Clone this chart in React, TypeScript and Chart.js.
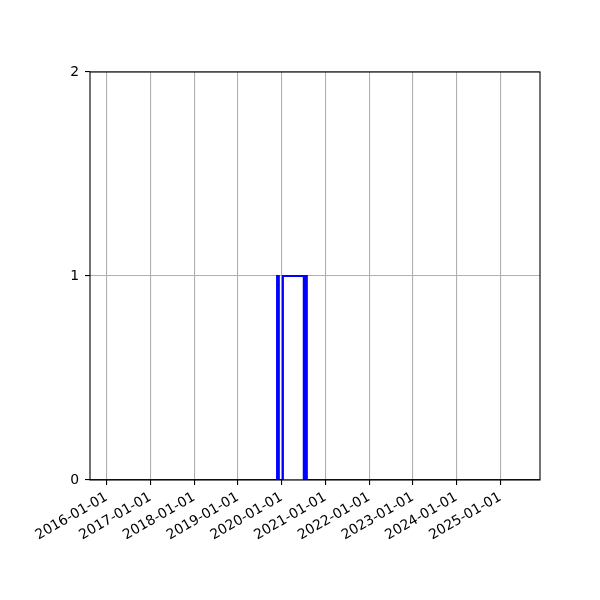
import { useEffect, useRef } from 'react';
import { Chart, registerables } from 'chart.js';

Chart.register(...registerables);

// change points of the step signal (value holds until the next date)
const changeDates = [
  '2015-08-15',
  '2019-11-25',
  '2019-12-09',
  '2020-01-12',
  '2020-07-05',
  '2020-07-18',
  '2020-07-30',
  '2025-11-29',
];
const stateValues = [0, 1, 0, 1, 0, 1, 0, 0];

const yearTicks = [
  '2016-01-01',
  '2017-01-01',
  '2018-01-01',
  '2019-01-01',
  '2020-01-01',
  '2021-01-01',
  '2022-01-01',
  '2023-01-01',
  '2024-01-01',
  '2025-01-01',
];
const yTicks = [0, 1, 2];

const xMin = '2015-08-15';
const xMax = '2025-11-29';

function ts(d: string) {
  const [y, m, day] = d.split('-').map(Number);
  return Date.UTC(y, m - 1, day);
}

function fmt(v: number) {
  const d = new Date(v);
  const mm = String(d.getUTCMonth() + 1).padStart(2, '0');
  const dd = String(d.getUTCDate()).padStart(2, '0');
  return `${d.getUTCFullYear()}-${mm}-${dd}`;
}

const FONT = 'DejaVu Sans';

// matplotlib draws a full box round the axes
const framePlugin = {
  id: 'frame',
  afterDraw(chart: any) {
    const { ctx, chartArea } = chart;
    ctx.save();
    ctx.strokeStyle = '#000';
    ctx.lineWidth = 1.1;
    ctx.strokeRect(chartArea.left, chartArea.top, chartArea.right - chartArea.left, chartArea.bottom - chartArea.top);
    ctx.restore();
  },
};

export default function App() {
  const chartRef = useRef<HTMLCanvasElement | null>(null);
  const chartInstance = useRef<Chart | null>(null);

  useEffect(() => {
    document.body.style.margin = '0';
    if (!chartRef.current) return;

    const points = changeDates.map((d, i) => ({ x: ts(d), y: stateValues[i] }));

    if (chartInstance.current) chartInstance.current.destroy();

    chartInstance.current = new Chart(chartRef.current, {
      type: 'line',
      data: {
        datasets: [
          {
            data: points,
            borderColor: '#0000ff',
            borderWidth: 2.1,
            pointRadius: 0,
            stepped: 'before',
            fill: false,
          },
        ],
      },
      options: {
        animation: false,
        responsive: false,
        devicePixelRatio: 1,
        layout: { padding: { top: 72, right: 60, left: 0, bottom: 0 } },
        plugins: {
          legend: { display: false },
          tooltip: { enabled: false },
        },
        scales: {
          x: {
            type: 'linear',
            min: ts(xMin),
            max: ts(xMax),
            afterBuildTicks: (scale: any) => {
              scale.ticks = yearTicks.map((d) => ({ value: ts(d) }));
            },
            afterFit: (scale: any) => {
              scale.height = 120;
            },
            grid: {
              color: '#b0b0b0',
              lineWidth: 1.1,
              tickColor: '#000',
              tickLength: 5,
              tickWidth: 1.1,
            },
            border: { display: false },
            ticks: {
              autoSkip: false,
              minRotation: 30,
              maxRotation: 30,
              padding: 4,
              color: '#000',
              font: { family: FONT, size: 13.9 },
              callback: (v: any) => fmt(Number(v)),
            },
          },
          y: {
            type: 'linear',
            min: yTicks[0],
            max: yTicks[yTicks.length - 1],
            afterBuildTicks: (scale: any) => {
              scale.ticks = yTicks.map((v) => ({ value: v }));
            },
            afterFit: (scale: any) => {
              scale.width = 90;
            },
            grid: {
              color: '#b0b0b0',
              lineWidth: 1.1,
              tickColor: '#000',
              tickLength: 5,
              tickWidth: 1.1,
            },
            border: { display: false },
            ticks: {
              padding: 6,
              color: '#000',
              font: { family: FONT, size: 13.9 },
              callback: (v: any) => String(v),
            },
          },
        },
      },
      plugins: [framePlugin],
    });

    return () => {
      if (chartInstance.current) {
        chartInstance.current.destroy();
        chartInstance.current = null;
      }
    };
  }, []);

  return (
    <div style={{ width: 600, height: 600, background: '#fff' }}>
      <canvas ref={chartRef} width={600} height={600}></canvas>
    </div>
  );
}
